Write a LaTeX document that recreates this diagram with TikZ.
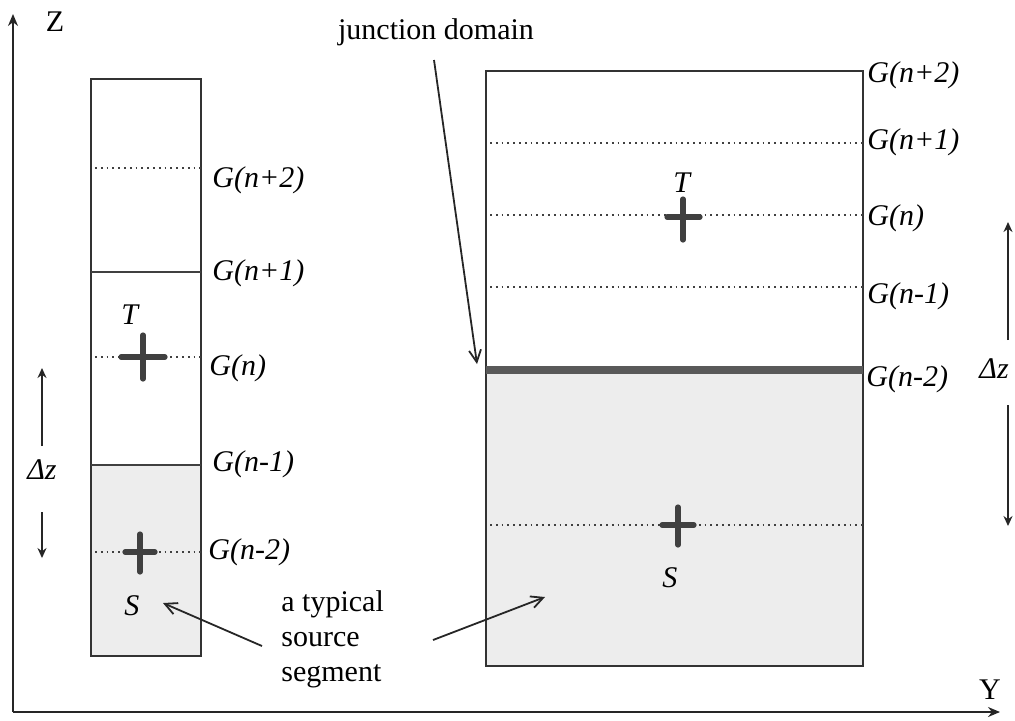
\documentclass[tikz,border=0pt]{standalone}
\usepackage{fontspec}
\setmainfont{Liberation Serif}
\usetikzlibrary{arrows.meta}
\begin{document}
\begin{tikzpicture}[x=0.5pt,y=-0.5pt,
  lbl/.style={font=\fontsize{15}{17}\selectfont\itshape, inner sep=0pt, anchor=west},
  txt/.style={font=\fontsize{15}{17.5}\selectfont, inner sep=0pt},
  frame/.style={line width=1.2pt, draw=black!80},
  seam/.style={line width=1.1pt, draw=black!75},
  junction/.style={line width=3.6pt, draw=black!65},
  grid/.style={dotted, line width=0.9pt, draw=black!75},
  cross/.style={line width=2.6pt, draw=black!75, line cap=round},
  ptr/.style={-{Straight Barb[length=6pt,width=6pt]}, line width=0.9pt, draw=black!85},
  dz/.style={-{Stealth[length=5pt,width=4.5pt]}, line width=0.8pt, draw=black!85},
  axis/.style={-{Stealth[length=6pt,width=5pt]}, line width=0.9pt, draw=black!85},
  shade/.style={fill=black!7}
]
\useasboundingbox (0,0) rectangle (1015,720);

% axes
\coordinate (O) at (13,712);
\coordinate (Ztip) at (13,14);
\coordinate (Ytip) at (1000,712);
\draw[axis] (O) -- (Ztip);
\draw[axis] (O) -- (Ytip);
\node[txt] (zlab) at (55,22) {Z};
\node[txt] (ylab) at (990,690) {Y};

% left column: segments of equal height
\fill[shade] (91,465) rectangle (201,656);
\draw[frame] (91,79) rectangle (201,656);
\draw[seam] (91,272) -- (201,272);
\draw[seam] (91,465) -- (201,465);
\draw[grid] (95,168) -- (201,168);
\draw[grid] (95,357) -- (201,357);
\draw[grid] (95,552) -- (201,552);
\draw[cross] (121,357) -- (165,357) (143,335) -- (143,379);
\draw[cross] (125,552) -- (155,552) (140,534) -- (140,572);
\node[lbl] (lT) at (121,315) {T};
\node[lbl] (lS) at (124,606) {S};
\node[lbl] (l2) at (212,180) {G(n+2)};
\node[lbl] (l1) at (212,273) {G(n+1)};
\node[lbl] (l0) at (209,368) {G(n)};
\node[lbl] (lm1) at (212,464) {G(n-1)};
\node[lbl] (lm2) at (208,552) {G(n-2)};

% left step size
\node[lbl, anchor=center] (ldz) at (42,470) {Δz};
\coordinate (ldzup) at (42,368);
\coordinate (ldzdn) at (42,558);
\draw[dz] (42,446) -- (ldzup);
\draw[dz] (42,512) -- (ldzdn);

% right column: wide segments with junction
\fill[shade] (486,370) rectangle (863,666);
\draw[frame] (486,71) rectangle (863,666);
\draw[grid] (490,143) -- (863,143);
\draw[grid] (490,215) -- (863,215);
\draw[grid] (490,287) -- (863,287);
\draw[grid] (490,525) -- (863,525);
\draw[junction] (486,370) -- (863,370);
\draw[cross] (667,217) -- (700,217) (683,199) -- (683,240);
\draw[cross] (662,525) -- (694,525) (678,507) -- (678,545);
\node[lbl] (rT) at (673,183) {T};
\node[lbl] (rS) at (662,578) {S};
\node[lbl] (r2) at (867,75) {G(n+2)};
\node[lbl] (r1) at (867,142) {G(n+1)};
\node[lbl] (r0) at (867,218) {G(n)};
\node[lbl] (rm1) at (867,296) {G(n-1)};
\node[lbl] (rm2) at (866,379) {G(n-2)};

% right step size
\node[lbl] (rdz) at (979,369) {Δz};
\coordinate (rdzup) at (1008,222);
\coordinate (rdzdn) at (1008,526);
\draw[dz] (1008,340) -- (rdzup);
\draw[dz] (1008,405) -- (rdzdn);

% annotations
\node[txt] (jd) at (436,32) {junction domain};
\coordinate (jdtip) at (477,364);
\draw[ptr] (434,60) -- (jdtip);

\node[txt, anchor=north west, align=left] (src) at (281,590) {a typical\\source\\segment};
\coordinate (lsrc) at (163,603);
\coordinate (rsrc) at (545,597);
\draw[ptr] (262,646) -- (lsrc);
\draw[ptr] (433,640) -- (rsrc);
\end{tikzpicture}
\end{document}
